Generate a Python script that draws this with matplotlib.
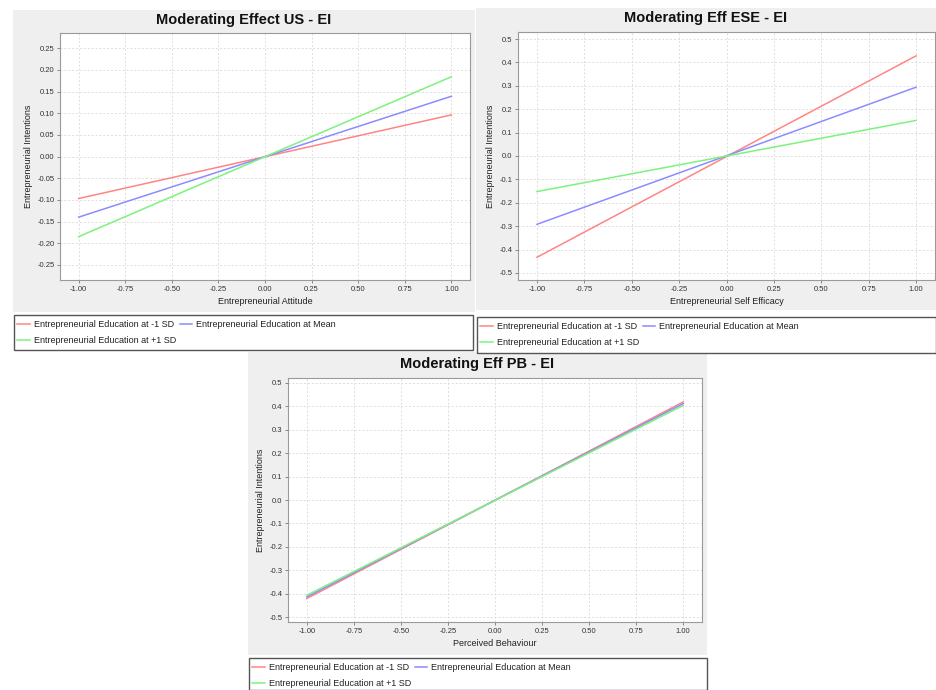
import matplotlib
matplotlib.use('Agg')
import matplotlib.pyplot as plt
from matplotlib.patches import Rectangle
from matplotlib.lines import Line2D

plt.rcParams['font.family'] = ['Liberation Sans', 'DejaVu Sans']

W, H = 936, 690

# data: value of each line at x = -1 and x = +1
x_vals = [-1.0, 1.0]
x_ticks = [-1.0, -0.75, -0.5, -0.25, 0.0, 0.25, 0.5, 0.75, 1.0]

us_low = [-0.097, 0.096]
us_mean = [-0.140, 0.139]
us_high = [-0.185, 0.184]
us_yticks = [-0.25, -0.20, -0.15, -0.10, -0.05, 0.0, 0.05, 0.10, 0.15, 0.20, 0.25]

ese_low = [-0.433, 0.428]
ese_mean = [-0.292, 0.294]
ese_high = [-0.152, 0.152]

pb_low = [-0.420, 0.418]
pb_mean = [-0.413, 0.411]
pb_high = [-0.406, 0.403]

y_ticks_1 = [-0.5, -0.4, -0.3, -0.2, -0.1, 0.0, 0.1, 0.2, 0.3, 0.4, 0.5]

legend_labels = ['Entrepreneurial Education at -1 SD',
                 'Entrepreneurial Education at Mean',
                 'Entrepreneurial Education at +1 SD']
colors = ['#ff8585', '#8c8cff', '#7df27d']

fig = plt.figure(figsize=(W / 100, H / 100), dpi=100)
fig.patch.set_facecolor('white')


def box(x0, y0, x1, y1):
    # pixel box (top-left origin) -> figure fraction rect
    return [x0 / W, 1 - y1 / H, (x1 - x0) / W, (y1 - y0) / H]


def panel(bg, ax_box, leg_box, title, title_y, xlabel, series, yticks, ylim, yfmt):
    r = box(*bg)
    fig.patches.append(Rectangle((r[0], r[1]), r[2], r[3], transform=fig.transFigure,
                                 facecolor='#efefef', edgecolor='none', zorder=-2))
    fig.text((bg[0] + bg[2]) / 2 / W, 1 - title_y / H, title, ha='center', va='center',
             fontsize=10.5, fontweight='bold', color='#111111')

    ax = fig.add_axes(box(*ax_box))
    ax.set_zorder(1)
    ax.set_facecolor('white')
    for i, ys in enumerate(series):
        ax.plot(x_vals, ys, color=colors[i], lw=1.1)
    ax.set_xlim(-1.1, 1.1)
    ax.set_ylim(*ylim)
    ax.set_xticks(x_ticks)
    ax.set_xticklabels(['%.2f' % v for v in x_ticks])
    ax.set_yticks(yticks)
    ax.set_yticklabels([yfmt % v for v in yticks])
    ax.grid(True, color='#dddddd', linestyle=(0, (2, 2)), lw=0.7)
    ax.set_axisbelow(True)
    ax.tick_params(labelsize=5.5, length=2, width=0.6, color='#777777', pad=2,
                   labelcolor='#333333')
    for s in ax.spines.values():
        s.set_color('#9a9a9a')
        s.set_linewidth(0.8)
    ax.set_xlabel(xlabel, fontsize=6.5, labelpad=3, color='#222222')
    ax.set_ylabel('Entrepreneurial Intentions', fontsize=6.5, labelpad=3, color='#222222')

    lr = box(*leg_box)
    fig.patches.append(Rectangle((lr[0], lr[1]), lr[2], lr[3], transform=fig.transFigure,
                                 facecolor='white', edgecolor='#555555', lw=1.0, zorder=-1))
    handles = [Line2D([], [], color=c, lw=1.1) for c in colors]
    order = [0, 2, 1]
    leg = fig.legend([handles[i] for i in order], [legend_labels[i] for i in order],
                     ncol=2, loc='upper left',
                     bbox_to_anchor=(lr[0] - 0.004, lr[1] + lr[3] + 0.003),
                     frameon=False, fontsize=6.5, handlelength=1.4, handletextpad=0.4,
                     columnspacing=0.4, labelspacing=0.75, borderpad=0.3)
    for t in leg.get_texts():
        t.set_color('#222222')


panel((13, 10, 475, 312), (60, 33, 470, 280), (14, 315, 473, 350),
      'Moderating Effect US - EI', 20, 'Entrepreneurial Attitude',
      [us_low, us_mean, us_high], us_yticks, (-0.285, 0.285), '%.2f')

panel((476, 8, 936, 310), (518, 32, 935, 280), (477, 317, 936, 353),
      'Moderating Eff ESE - EI', 18, 'Entrepreneurial Self Efficacy',
      [ese_low, ese_mean, ese_high], y_ticks_1, (-0.53, 0.53), '%.1f')

panel((248, 352, 707, 655), (288, 378, 702, 622), (249, 658, 707, 690),
      'Moderating Eff PB - EI', 364, 'Perceived Behaviour',
      [pb_low, pb_mean, pb_high], y_ticks_1, (-0.52, 0.52), '%.1f')

fig.savefig('out.png', dpi=100)
